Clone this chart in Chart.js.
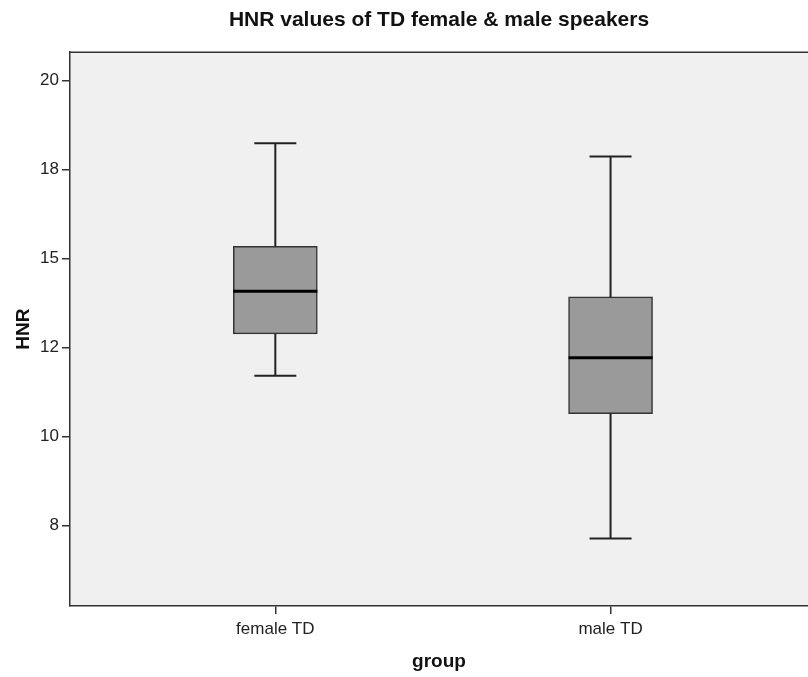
<!DOCTYPE html>
<html>
<head>
<meta charset="utf-8">
<script src="https://cdn.jsdelivr.net/npm/chart.js@4.4.0/dist/chart.umd.min.js"></script>
<style>
  html, body { margin: 0; padding: 0; background: #fff; overflow: hidden; }
  canvas { display: block; }
</style>
</head>
<body>
<canvas id="hnrChart" width="808" height="677"></canvas>
<script>
const groups = ["female TD", "male TD"];
const whiskerLow = [11.70, 7.13];
const q1 = [12.88, 10.64];
const median = [14.08, 12.21];
const q3 = [15.34, 13.92];
const whiskerHigh = [18.24, 17.87];

const yTickValues = [7.5, 10, 12.5, 15, 17.5, 20];
const yTickLabels = ["8", "10", "12", "15", "18", "20"];

const FONT = "'Liberation Sans', Arial, sans-serif";
const AXIS_COLOR = "#333";

// plot background + top frame line
const framePlugin = {
  id: "frame",
  beforeDraw(chart) {
    const { ctx, chartArea: a } = chart;
    ctx.save();
    ctx.fillStyle = "#f0f0f0";
    ctx.fillRect(a.left, a.top, a.right - a.left, a.bottom - a.top);
    ctx.restore();
  },
  afterDraw(chart) {
    const { ctx, chartArea: a } = chart;
    ctx.save();
    ctx.strokeStyle = AXIS_COLOR;
    ctx.lineWidth = 1.5;
    ctx.beginPath();
    ctx.moveTo(a.left, a.top);
    ctx.lineTo(a.right, a.top);
    ctx.stroke();
    ctx.restore();
  }
};

// whiskers, caps and median drawn through the chart scales
const boxPlugin = {
  id: "boxParts",
  afterDatasetsDraw(chart) {
    const { ctx, scales } = chart;
    const x = scales.x, y = scales.y;
    const meta = chart.getDatasetMeta(0);
    ctx.save();
    groups.forEach((g, i) => {
      const cx = x.getPixelForValue(i + 1);
      const half = meta.data[i].width / 2;
      const cap = half / 2;
      const yLo = y.getPixelForValue(whiskerLow[i]);
      const yQ1 = y.getPixelForValue(q1[i]);
      const yQ3 = y.getPixelForValue(q3[i]);
      const yHi = y.getPixelForValue(whiskerHigh[i]);
      const yMed = y.getPixelForValue(median[i]);

      ctx.strokeStyle = "#222";
      ctx.lineWidth = 2;
      ctx.beginPath();
      ctx.moveTo(cx, yQ3); ctx.lineTo(cx, yHi);
      ctx.moveTo(cx - cap, yHi); ctx.lineTo(cx + cap, yHi);
      ctx.moveTo(cx, yQ1); ctx.lineTo(cx, yLo);
      ctx.moveTo(cx - cap, yLo); ctx.lineTo(cx + cap, yLo);
      ctx.stroke();

      ctx.strokeStyle = "#000";
      ctx.lineWidth = 3;
      ctx.beginPath();
      ctx.moveTo(cx - half, yMed); ctx.lineTo(cx + half, yMed);
      ctx.stroke();
    });
    ctx.restore();
  }
};

const ctx = document.getElementById("hnrChart").getContext("2d");
new Chart(ctx, {
  type: "bar",
  data: {
    datasets: [{
      label: "HNR",
      data: groups.map((g, i) => ({ x: i + 1, y: [q1[i], q3[i]] })),
      backgroundColor: "#9a9a9a",
      borderColor: "#333",
      borderWidth: 1.5,
      borderSkipped: false,
      barThickness: 84
    }]
  },
  options: {
    responsive: false,
    animation: false,
    layout: { padding: 0 },
    plugins: {
      legend: { display: false },
      tooltip: { enabled: false },
      title: {
        display: true,
        fullSize: false,
        text: "HNR values of TD female & male speakers",
        color: "#111",
        font: { family: FONT, size: 21, weight: "bold", lineHeight: 1.2 },
        padding: { top: 8, bottom: 19 }
      }
    },
    scales: {
      x: {
        type: "linear",
        offset: false,
        min: 0.3875,
        max: 2.589,
        afterBuildTicks: (s) => { s.ticks = groups.map((g, i) => ({ value: i + 1 })); },
        afterFit: (s) => { s.height = 71; },
        ticks: {
          color: "#222",
          font: { family: FONT, size: 17 },
          padding: 5,
          callback: (v) => groups[v - 1]
        },
        grid: { offset: false, drawOnChartArea: false, drawTicks: true, tickLength: 8, color: AXIS_COLOR, lineWidth: 1.5 },
        border: { display: true, color: AXIS_COLOR, width: 1.5 },
        title: {
          display: true,
          text: "group",
          color: "#111",
          font: { family: FONT, size: 19, weight: "bold", lineHeight: 1.2 },
          padding: { top: 0, bottom: 4 }
        }
      },
      y: {
        min: 5.23,
        max: 20.8,
        afterBuildTicks: (s) => { s.ticks = yTickValues.map(v => ({ value: v })); },
        afterFit: (s) => { s.width = 70; },
        ticks: {
          color: "#222",
          font: { family: FONT, size: 17 },
          padding: 3,
          callback: (v) => yTickLabels[yTickValues.indexOf(v)]
        },
        grid: { drawOnChartArea: false, drawTicks: true, tickLength: 8, color: AXIS_COLOR, lineWidth: 1.5 },
        border: { display: true, color: AXIS_COLOR, width: 1.5 },
        title: {
          display: true,
          text: "HNR",
          color: "#111",
          font: { family: FONT, size: 19, weight: "bold", lineHeight: 1.2 },
          padding: { top: 12, bottom: 0 }
        }
      }
    }
  },
  plugins: [framePlugin, boxPlugin]
});
</script>
</body>
</html>
